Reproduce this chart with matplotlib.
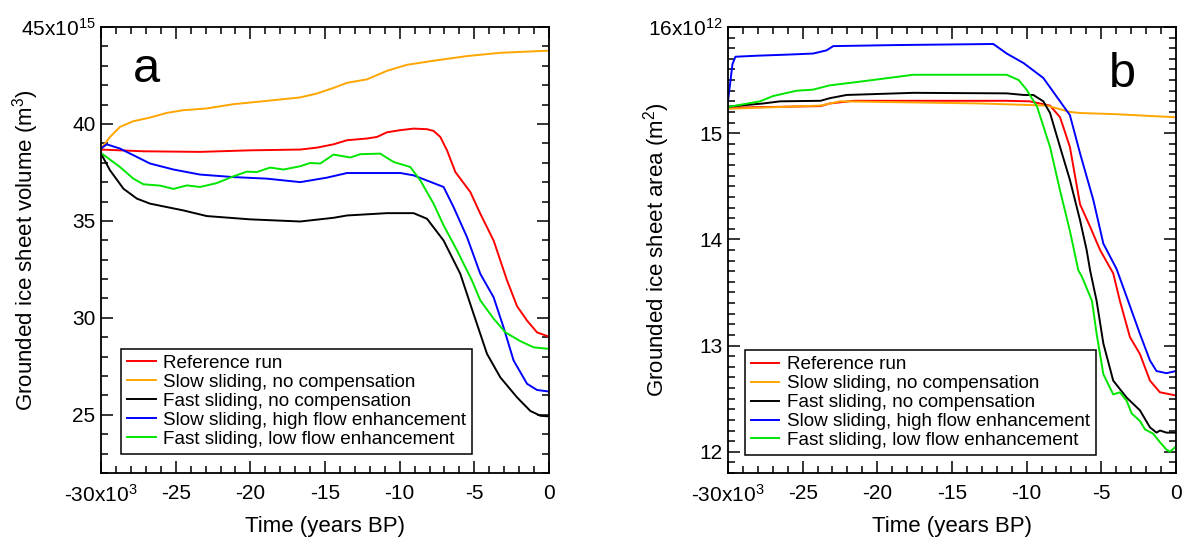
import numpy as np
import matplotlib
matplotlib.use('Agg')
import matplotlib.pyplot as plt
from matplotlib.ticker import MultipleLocator, FuncFormatter

plt.rcParams['font.family'] = ['Liberation Sans', 'DejaVu Sans']
plt.rcParams['mathtext.default'] = 'regular'
plt.rcParams['axes.unicode_minus'] = False

# ---- panel a: grounded ice sheet volume (x1e15 m^3), time in kyr BP
a_red_t = [-30, -27.16, -23.37, -20.01, -16.66, -15.54, -14.43, -13.53, -12.19, -11.52, -10.85, -9.96, -9.07,
           -8.17, -7.73, -7.28, -6.83, -6.27, -5.27, -4.6, -3.71, -3.26, -2.81, -2.14, -1.47, -0.8, 0]
a_red_v = [38.68, 38.59, 38.56, 38.64, 38.68, 38.78, 38.95, 39.16, 39.25, 39.33, 39.57, 39.68, 39.76,
           39.73, 39.64, 39.33, 38.64, 37.52, 36.49, 35.37, 33.99, 32.96, 31.93, 30.6, 29.86, 29.25, 29.03]

a_orange_t = [-30, -29.4, -28.73, -27.84, -26.72, -25.6, -24.48, -22.92, -21.13, -18.9, -16.66, -15.54,
              -14.43, -13.53, -12.19, -10.85, -9.51, -7.73, -5.49, -3.26, 0]
a_orange_v = [38.73, 39.33, 39.85, 40.14, 40.33, 40.57, 40.71, 40.8, 41.02, 41.19, 41.37, 41.57,
              41.86, 42.12, 42.3, 42.74, 43.05, 43.26, 43.5, 43.67, 43.78]

a_black_t = [-30, -29.4, -28.5, -27.6, -26.72, -24.48, -22.92, -20.01, -16.66, -14.43, -13.53, -10.85,
             -9.07, -8.17, -7.06, -5.94, -5.05, -4.15, -3.26, -2.14, -1.25, -0.57, 0]
a_black_v = [38.47, 37.61, 36.66, 36.15, 35.89, 35.54, 35.25, 35.08, 34.97, 35.16, 35.28, 35.4,
             35.4, 35.11, 33.99, 32.27, 30.2, 28.14, 26.93, 25.9, 25.2, 24.95, 24.92]

a_blue_t = [-30, -29.62, -28.73, -27.84, -26.72, -25.15, -23.37, -21.13, -18.9, -16.66, -14.88, -13.53,
            -9.96, -9.07, -7.73, -7.06, -6.39, -5.49, -4.6, -3.71, -3.04, -2.37, -1.47, -0.8, 0]
a_blue_v = [38.73, 38.95, 38.73, 38.39, 37.96, 37.65, 37.39, 37.26, 37.18, 37.0, 37.23, 37.47,
            37.47, 37.35, 36.95, 36.75, 35.71, 34.16, 32.27, 31.06, 29.5, 27.8, 26.6, 26.28, 26.2]

a_green_t = [-30, -28.73, -27.84, -27.16, -26.05, -25.15, -24.26, -23.37, -22.25, -21.13, -20.24, -19.57,
             -18.68, -17.78, -16.66, -15.99, -15.32, -14.43, -13.31, -12.64, -11.3, -10.41, -9.29, -8.62,
             -7.73, -7.06, -6.16, -5.49, -5.16, -4.6, -3.7, -2.92, -1.92, -1.03, 0]
a_green_v = [38.5, 37.78, 37.18, 36.89, 36.82, 36.65, 36.83, 36.75, 36.95, 37.3, 37.54, 37.52,
             37.75, 37.65, 37.82, 37.99, 37.96, 38.42, 38.27, 38.44, 38.47, 38.04, 37.78, 37.09,
             35.89, 34.77, 33.48, 32.44, 31.93, 30.9, 29.95, 29.25, 28.8, 28.48, 28.4]

# ---- panel b: grounded ice sheet area (x1e12 m^2)
b_red_t = [-30, -23.8, -23.17, -21.6, -11.33, -9.8, -8.43, -7.76, -7.1, -6.42, -5.75, -5.08, -4.2,
           -3.75, -3.08, -2.41, -1.74, -1.07, 0]
b_red_v = [15.24, 15.255, 15.28, 15.305, 15.305, 15.3, 15.26, 15.15, 14.87, 14.33, 14.12, 13.9, 13.68,
           13.42, 13.08, 12.92, 12.67, 12.56, 12.53]

b_orange_t = [-30, -23.8, -22.5, -13.1, -8.65, -7.1, -6.42, -4.2, 0]
b_orange_v = [15.23, 15.26, 15.3, 15.28, 15.26, 15.2, 15.19, 15.18, 15.15]

b_black_t = [-30, -27.63, -26.5, -23.8, -23.17, -22.05, -19.8, -17.6, -11.33, -10.2, -9.55, -8.88,
             -8.43, -7.76, -7.1, -6.42, -5.98, -5.75, -5.31, -4.86, -4.2, -3.3, -2.41, -1.74, -1.3,
             -1.07, -0.63, 0]
b_black_v = [15.25, 15.28, 15.3, 15.305, 15.33, 15.36, 15.37, 15.38, 15.375, 15.36, 15.36, 15.3,
             15.19, 14.87, 14.56, 14.18, 13.9, 13.71, 13.42, 13.02, 12.67, 12.51, 12.39, 12.23, 12.18,
             12.2, 12.18, 12.18]

b_blue_t = [-30, -29.87, -29.7, -29.5, -28, -26, -24.3, -23.4, -22.95, -18.7, -12.23, -11.33, -10.2,
            -8.88, -7.1, -6.42, -5.53, -4.86, -3.97, -3.2, -2.41, -1.74, -1.3, -0.63, 0]
b_blue_v = [15.3, 15.45, 15.65, 15.72, 15.73, 15.74, 15.75, 15.78, 15.82, 15.83, 15.84, 15.75, 15.66,
            15.52, 15.17, 14.81, 14.37, 13.96, 13.72, 13.42, 13.11, 12.86, 12.76, 12.74, 12.76]

b_green_t = [-30, -29.87, -27.86, -26.97, -25.4, -24.3, -23.2, -20.9, -18.7, -17.6, -11.33, -10.53,
             -10.0, -9.3, -8.43, -7.76, -7.1, -6.54, -6.3, -5.62, -5.31, -4.86, -4.2, -3.75, -3.3,
             -2.96, -2.41, -2.07, -1.52, -1.07, -0.63, -0.4, 0]
b_green_v = [15.24, 15.25, 15.3, 15.35, 15.4, 15.41, 15.45, 15.49, 15.53, 15.55, 15.55, 15.5,
             15.41, 15.25, 14.87, 14.46, 14.08, 13.71, 13.65, 13.42, 13.11, 12.73, 12.54, 12.56, 12.48,
             12.36, 12.29, 12.21, 12.17, 12.09, 12.02, 12.0, 12.05]

labels = ['Reference run', 'Slow sliding, no compensation', 'Fast sliding, no compensation',
          'Slow sliding, high flow enhancement', 'Fast sliding, low flow enhancement']
colors = ['#ff0000', '#ffa500', '#000000', '#0000ff', '#00e600']


def xfmt(x, pos):
    if abs(x + 30000) < 1:
        return '-30x10$^3$'
    return '%d' % round(x / 1000)


def yfmt_factory(top, exp):
    def f(y, pos):
        if abs(y - top) < 1e-6:
            return '%dx10$^{%d}$' % (top, exp)
        return '%d' % round(y)
    return f


def style_axes(ax, ymin, ymax, ymajor, yminor, top, exp):
    ax.set_xlim(-30000, 0)
    ax.set_ylim(ymin, ymax)
    ax.xaxis.set_major_locator(MultipleLocator(5000))
    ax.xaxis.set_minor_locator(MultipleLocator(1000))
    ax.yaxis.set_major_locator(MultipleLocator(ymajor))
    ax.yaxis.set_minor_locator(MultipleLocator(yminor))
    ax.xaxis.set_major_formatter(FuncFormatter(xfmt))
    ax.yaxis.set_major_formatter(FuncFormatter(yfmt_factory(top, exp)))
    ax.tick_params(which='both', direction='in', top=True, right=True, width=1.1)
    ax.tick_params(which='major', length=8.5, labelsize=15)
    ax.tick_params(axis='x', which='major', pad=8)
    ax.tick_params(axis='y', which='major', pad=4)
    ax.tick_params(which='minor', length=5)
    for s in ax.spines.values():
        s.set_linewidth(1.3)
    ax.set_xlabel('Time (years BP)', fontsize=16)
    ax.xaxis.set_label_coords(0.5, -0.097)


fig = plt.figure(figsize=(11.86, 5.4), dpi=100)
ax1 = fig.add_axes([0.0852, 0.1241, 0.3777, 0.8259])
ax2 = fig.add_axes([0.6138, 0.1241, 0.3777, 0.8259])

series_a = [(a_red_t, a_red_v), (a_orange_t, a_orange_v), (a_black_t, a_black_v),
            (a_blue_t, a_blue_v), (a_green_t, a_green_v)]
series_b = [(b_red_t, b_red_v), (b_orange_t, b_orange_v), (b_black_t, b_black_v),
            (b_blue_t, b_blue_v), (b_green_t, b_green_v)]

for ax, series in ((ax1, series_a), (ax2, series_b)):
    for (t, v), c, lab in zip(series, colors, labels):
        ax.plot(np.array(t) * 1000, v, color=c, lw=1.4, label=lab)

style_axes(ax1, 22, 45, 5, 1, 45, 15)
style_axes(ax2, 11.8, 16, 1, 0.1, 16, 12)

ax1.set_ylabel('Grounded ice sheet volume (m$^3$)', fontsize=16)
ax1.yaxis.set_label_coords(-0.135, 0.5)
ax2.set_ylabel('Grounded ice sheet area (m$^2$)', fontsize=16)
ax2.yaxis.set_label_coords(-0.125, 0.5)

ax1.text(0.072, 0.877, 'a', transform=ax1.transAxes, fontsize=35, va='baseline', ha='left')
ax2.text(0.85, 0.865, 'b', transform=ax2.transAxes, fontsize=35, va='baseline', ha='left')

for ax, x0, y0 in ((ax1, 0.045, 0.043), (ax2, 0.038, 0.04)):
    leg = ax.legend(loc='lower left', bbox_to_anchor=(x0, y0), borderaxespad=0, fontsize=13.6,
                    handlelength=1.5, handletextpad=0.4, borderpad=0.32, labelspacing=0.09,
                    fancybox=False, framealpha=1, edgecolor='black')
    leg.get_frame().set_linewidth(1.1)

fig.savefig('out.png', dpi=100)
